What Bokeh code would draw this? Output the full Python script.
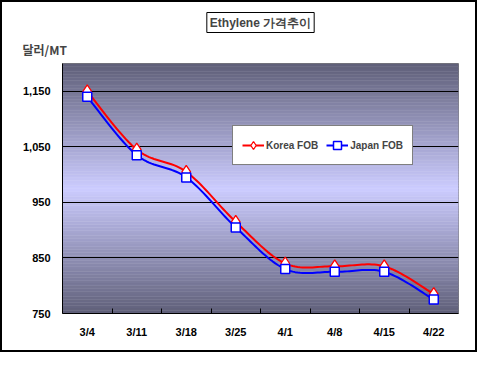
import numpy as np
from bokeh.plotting import figure
from bokeh.models import (Range1d, FixedTicker, NumeralTickFormatter, Legend, LegendItem,
                          Title)
from bokeh.embed import file_html
from bokeh.resources import INLINE

# ---- data ----
dates = ["3/4", "3/11", "3/18", "3/25", "4/1", "4/8", "4/15", "4/22"]
korea_fob = [1150, 1045, 1005, 915, 840, 835, 835, 785]
japan_fob = [1140, 1035, 995, 905, 830, 825, 825, 775]
y_ticks = [750, 850, 950, 1050, 1150]
y_min, y_max = 750, 1200
title_text = "Ethylene 가격추이"
unit_text = "달러/MT"

xc = [i + 0.5 for i in range(len(dates))]


def smooth(xs, ys, n=20):
    """Catmull-Rom style smoothing (like Excel smoothed lines) through the data points."""
    P = [(xs[0], ys[0])] + list(zip(xs, ys)) + [(xs[-1], ys[-1])]
    ox, oy = [], []
    for i in range(1, len(P) - 2):
        p0, p1, p2, p3 = [np.array(P[j], dtype=float) for j in (i - 1, i, i + 1, i + 2)]
        c1 = p1 + (p2 - p0) / 6.0
        c2 = p2 - (p3 - p1) / 6.0
        for t in np.linspace(0, 1, n, endpoint=False):
            b = ((1 - t) ** 3) * p1 + 3 * ((1 - t) ** 2) * t * c1 + 3 * (1 - t) * t * t * c2 + t ** 3 * p2
            ox.append(b[0]); oy.append(b[1])
    ox.append(xs[-1]); oy.append(ys[-1])
    return ox, oy


W, H = 477, 352
ML, MR, MT, MB = 60, 21, 61, 41
p = figure(width=W, height=H, output_backend="svg", toolbar_location=None,
           x_range=Range1d(0, len(dates)), y_range=Range1d(y_min, y_max),
           min_border_left=ML, min_border_right=MR, min_border_top=MT, min_border_bottom=MB,
           styles={"border": "2px solid black"})
p.background_fill_color = "white"
p.border_fill_color = "white"
p.outline_line_color = "#808080"
p.outline_line_width = 1

# titles (chart title and unit label)
p.title.text = title_text
p.title.align = "center"
p.title.offset = 2
p.title.text_font = "Liberation Sans"
p.title.text_font_style = "bold"
p.title.text_font_size = "12px"
p.title.border_line_color = "black"
p.title.background_fill_color = "white"
p.title.padding = 3
p.title.standoff = 0
p.add_layout(Title(text=unit_text, align="left", offset=-40, text_font="Noto Sans CJK KR",
                   text_font_style="bold", text_font_size="12px", standoff=12), "above")

# gradient background (decorative bands)
nb = 90
edges = np.linspace(y_min, y_max, nb + 1)
dark = np.array([95, 95, 120])
light = np.array([204, 204, 255])
mid = (y_min + y_max) / 2.0
cols = []
for k in range(nb):
    yc = (edges[k] + edges[k + 1]) / 2
    t = abs(yc - mid) / ((y_max - y_min) / 2.0)
    c = light * (1 - t) + dark * t
    cols.append("#%02x%02x%02x" % tuple(int(round(v)) for v in c))
p.quad(left=0, right=len(dates), bottom=edges[:-1], top=edges[1:], fill_color=cols,
       line_color=cols, line_width=0.5, level="image")

# grid
p.xgrid.grid_line_color = None
p.ygrid.ticker = FixedTicker(ticks=y_ticks)
p.ygrid.grid_line_color = "black"
p.ygrid.grid_line_width = 1

font = "Liberation Sans"
# axes
p.xaxis.ticker = FixedTicker(ticks=xc, minor_ticks=list(range(1, len(dates))))
p.xaxis.major_label_overrides = {xc[i]: dates[i] for i in range(len(dates))}
p.xaxis.major_tick_in = 0
p.xaxis.major_tick_out = 0
p.xaxis.minor_tick_in = 5
p.xaxis.minor_tick_out = 0
p.xaxis.minor_tick_line_color = "black"
p.xaxis.major_label_standoff = 12
p.yaxis.ticker = FixedTicker(ticks=y_ticks)
p.yaxis.formatter = NumeralTickFormatter(format="0,0")
p.yaxis.major_tick_in = 0
p.yaxis.major_tick_out = 0
p.yaxis.minor_tick_line_color = None
p.yaxis.major_label_standoff = 12
for ax in (p.xaxis, p.yaxis):
    ax.axis_line_color = "black"
    ax.axis_line_width = 1
    ax.major_label_text_font = font
    ax.major_label_text_font_style = "bold"
    ax.major_label_text_font_size = "11px"
    ax.major_label_text_color = "black"

# series
kx, ky = smooth(xc, korea_fob)
jx, jy = smooth(xc, japan_fob)
kl = p.line(kx, ky, line_color="#ff0000", line_width=2, line_join="round")
ks = p.scatter(xc, korea_fob, marker="diamond", size=13, fill_color="white",
               line_color="#ff0000", line_width=1.3)
jl = p.line(jx, jy, line_color="#0000ff", line_width=2, line_join="round")
js = p.scatter(xc, japan_fob, marker="square", size=9, fill_color="white",
               line_color="#0000ff", line_width=1.5)

legend = Legend(items=[LegendItem(label="Korea FOB", renderers=[kl, ks]),
                       LegendItem(label="Japan FOB", renderers=[jl, js])],
                orientation="horizontal", location=(170, 148))
legend.label_text_font = font
legend.label_text_font_style = "bold"
legend.label_text_font_size = "10px"
legend.glyph_width = 22
legend.glyph_height = 20
legend.label_height = 20
legend.label_standoff = 2
legend.spacing = 8
legend.padding = 9
legend.margin = 0
legend.border_line_color = "black"
legend.border_line_width = 1
legend.background_fill_color = "white"
legend.background_fill_alpha = 1
p.add_layout(legend, "center")

open("out.html", "w").write(file_html(p, INLINE))
